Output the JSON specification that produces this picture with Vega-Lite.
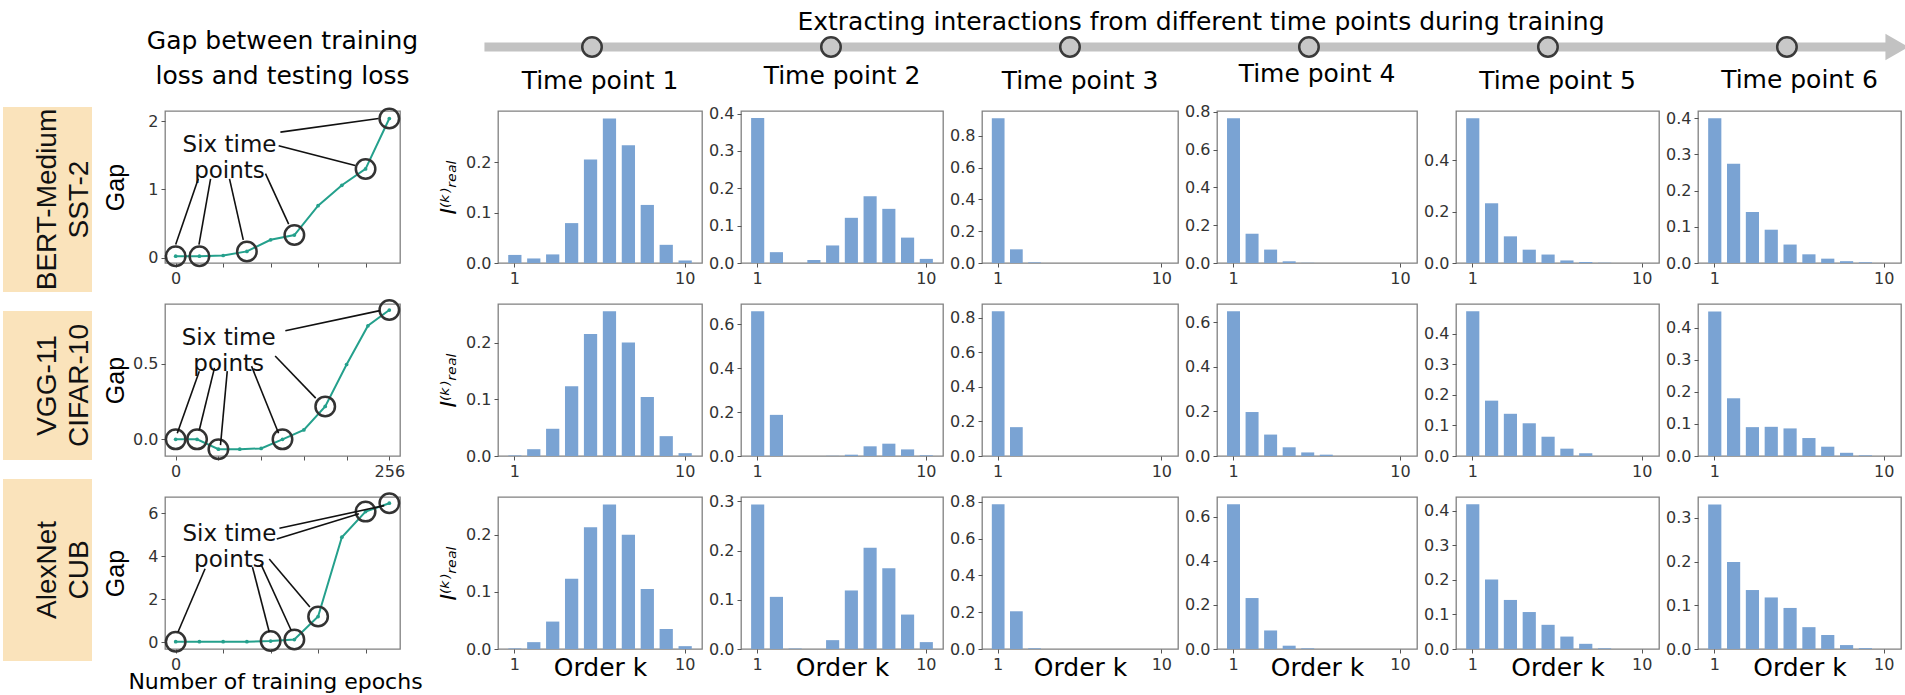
{
  "$schema": "https://vega.github.io/schema/vega-lite/v6.json",
  "background": "white",
  "padding": {"left": 3, "top": 10, "right": 0, "bottom": 0},
  "config": {
    "font": "DejaVu Sans",
    "view": {"stroke": "#808080", "strokeWidth": 1.3},
    "axis": {"domain": false, "grid": false, "ticks": true, "tickColor": "#555", "tickSize": 4, "tickWidth": 1, "labelFont": "DejaVu Sans", "labelFontSize": 16, "labelColor": "#333", "labelPadding": 3, "labelOverlap": false, "labelFlush": false, "titleFont": "DejaVu Sans", "titleFontWeight": "normal", "titleColor": "#000"},
    "title": {"font": "DejaVu Sans", "fontSize": 25, "fontWeight": "normal", "color": "#000", "baseline": "bottom", "offset": 17},
    "bar": {"color": "#7aa3d3"},
    "text": {"font": "DejaVu Sans"}
  },
  "datasets": {
    "models": [
      {"row": 1, "label": "BERT-Medium\nSST-2"},
      {"row": 2, "label": "VGG-11\nCIFAR-10"},
      {"row": 3, "label": "AlexNet\nCUB"}
    ],
    "timeline": [{"start": 0.55, "end": 6.46}],
    "timepoints": [{"tp": 1}, {"tp": 2}, {"tp": 3}, {"tp": 4}, {"tp": 5}, {"tp": 6}],
    "gap": [
      {"row": 1, "epoch": 0, "gap": 0.02, "circled": true},
      {"row": 1, "epoch": 28.44, "gap": 0.02, "circled": true},
      {"row": 1, "epoch": 56.89, "gap": 0.03, "circled": false},
      {"row": 1, "epoch": 85.33, "gap": 0.09, "circled": true},
      {"row": 1, "epoch": 113.78, "gap": 0.26, "circled": false},
      {"row": 1, "epoch": 142.22, "gap": 0.33, "circled": true},
      {"row": 1, "epoch": 170.67, "gap": 0.76, "circled": false},
      {"row": 1, "epoch": 199.11, "gap": 1.06, "circled": false},
      {"row": 1, "epoch": 227.56, "gap": 1.30, "circled": true},
      {"row": 1, "epoch": 256, "gap": 2.04, "circled": true},
      {"row": 2, "epoch": 0, "gap": 0.0, "circled": true},
      {"row": 2, "epoch": 25.6, "gap": 0.0, "circled": true},
      {"row": 2, "epoch": 51.2, "gap": -0.065, "circled": true},
      {"row": 2, "epoch": 76.8, "gap": -0.065, "circled": false},
      {"row": 2, "epoch": 102.4, "gap": -0.06, "circled": false},
      {"row": 2, "epoch": 128, "gap": 0.0, "circled": true},
      {"row": 2, "epoch": 153.6, "gap": 0.062, "circled": false},
      {"row": 2, "epoch": 179.2, "gap": 0.218, "circled": true},
      {"row": 2, "epoch": 204.8, "gap": 0.495, "circled": false},
      {"row": 2, "epoch": 230.4, "gap": 0.751, "circled": false},
      {"row": 2, "epoch": 256, "gap": 0.855, "circled": true},
      {"row": 3, "epoch": 0, "gap": 0.02, "circled": true},
      {"row": 3, "epoch": 28.44, "gap": 0.02, "circled": false},
      {"row": 3, "epoch": 56.89, "gap": 0.02, "circled": false},
      {"row": 3, "epoch": 85.33, "gap": 0.02, "circled": false},
      {"row": 3, "epoch": 113.78, "gap": 0.05, "circled": true},
      {"row": 3, "epoch": 142.22, "gap": 0.12, "circled": true},
      {"row": 3, "epoch": 170.67, "gap": 1.19, "circled": true},
      {"row": 3, "epoch": 199.11, "gap": 4.88, "circled": false},
      {"row": 3, "epoch": 227.56, "gap": 6.07, "circled": true},
      {"row": 3, "epoch": 256, "gap": 6.46, "circled": true}
    ],
    "arrows": [
      {"row": 1, "epoch": 0, "gap": 0.19, "epoch2": 27.1, "gap2": 1.155},
      {"row": 1, "epoch": 27.9, "gap": 0.19, "epoch2": 41.8, "gap2": 1.155},
      {"row": 1, "epoch": 81, "gap": 0.26, "epoch2": 64.5, "gap2": 1.155},
      {"row": 1, "epoch": 135.4, "gap": 0.49, "epoch2": 107.6, "gap2": 1.23},
      {"row": 1, "epoch": 215.1, "gap": 1.35, "epoch2": 123.4, "gap2": 1.64},
      {"row": 1, "epoch": 243.1, "gap": 2.04, "epoch2": 125.5, "gap2": 1.84},
      {"row": 2, "epoch": 1.9, "gap": 0.04, "epoch2": 28.3, "gap2": 0.451},
      {"row": 2, "epoch": 28.3, "gap": 0.062, "epoch2": 46.5, "gap2": 0.473},
      {"row": 2, "epoch": 53.7, "gap": -0.038, "epoch2": 61.8, "gap2": 0.451},
      {"row": 2, "epoch": 123.3, "gap": 0.04, "epoch2": 90.9, "gap2": 0.484},
      {"row": 2, "epoch": 167.8, "gap": 0.273, "epoch2": 119.2, "gap2": 0.551},
      {"row": 2, "epoch": 244.6, "gap": 0.851, "epoch2": 131.4, "gap2": 0.718},
      {"row": 3, "epoch": 2.8, "gap": 0.47, "epoch2": 35.2, "gap2": 3.41},
      {"row": 3, "epoch": 112.1, "gap": 0.47, "epoch2": 92, "gap2": 3.49},
      {"row": 3, "epoch": 138.5, "gap": 0.54, "epoch2": 102, "gap2": 3.64},
      {"row": 3, "epoch": 160.8, "gap": 1.63, "epoch2": 112.1, "gap2": 3.87},
      {"row": 3, "epoch": 249.9, "gap": 6.35, "epoch2": 124.3, "gap2": 5.3},
      {"row": 3, "epoch": 219.6, "gap": 5.97, "epoch2": 121.1, "gap2": 4.8}
    ],
    "notes": [
      {"row": 1, "epoch": 64.5, "gap": 1.65, "label": "Six time\npoints"},
      {"row": 2, "epoch": 63.5, "gap": 0.673, "label": "Six time\npoints"},
      {"row": 3, "epoch": 64.4, "gap": 5.04, "label": "Six time\npoints"}
    ],
    "bars": [
      {"row":1,"tp":1,"k":1,"value":0.016},{"row":1,"tp":1,"k":2,"value":0.009},{"row":1,"tp":1,"k":3,"value":0.017},{"row":1,"tp":1,"k":4,"value":0.079},{"row":1,"tp":1,"k":5,"value":0.205},{"row":1,"tp":1,"k":6,"value":0.286},{"row":1,"tp":1,"k":7,"value":0.233},{"row":1,"tp":1,"k":8,"value":0.115},{"row":1,"tp":1,"k":9,"value":0.036},{"row":1,"tp":1,"k":10,"value":0.005},
      {"row":1,"tp":2,"k":1,"value":0.388},{"row":1,"tp":2,"k":2,"value":0.029},{"row":1,"tp":2,"k":3,"value":0},{"row":1,"tp":2,"k":4,"value":0.008},{"row":1,"tp":2,"k":5,"value":0.047},{"row":1,"tp":2,"k":6,"value":0.121},{"row":1,"tp":2,"k":7,"value":0.179},{"row":1,"tp":2,"k":8,"value":0.145},{"row":1,"tp":2,"k":9,"value":0.068},{"row":1,"tp":2,"k":10,"value":0.011},
      {"row":1,"tp":3,"k":1,"value":0.91},{"row":1,"tp":3,"k":2,"value":0.086},{"row":1,"tp":3,"k":3,"value":0.004},{"row":1,"tp":3,"k":4,"value":0},{"row":1,"tp":3,"k":5,"value":0},{"row":1,"tp":3,"k":6,"value":0},{"row":1,"tp":3,"k":7,"value":0},{"row":1,"tp":3,"k":8,"value":0},{"row":1,"tp":3,"k":9,"value":0},{"row":1,"tp":3,"k":10,"value":0},
      {"row":1,"tp":4,"k":1,"value":0.767},{"row":1,"tp":4,"k":2,"value":0.155},{"row":1,"tp":4,"k":3,"value":0.071},{"row":1,"tp":4,"k":4,"value":0.009},{"row":1,"tp":4,"k":5,"value":0.001},{"row":1,"tp":4,"k":6,"value":0},{"row":1,"tp":4,"k":7,"value":0},{"row":1,"tp":4,"k":8,"value":0},{"row":1,"tp":4,"k":9,"value":0},{"row":1,"tp":4,"k":10,"value":0},
      {"row":1,"tp":5,"k":1,"value":0.565},{"row":1,"tp":5,"k":2,"value":0.233},{"row":1,"tp":5,"k":3,"value":0.104},{"row":1,"tp":5,"k":4,"value":0.052},{"row":1,"tp":5,"k":5,"value":0.033},{"row":1,"tp":5,"k":6,"value":0.01},{"row":1,"tp":5,"k":7,"value":0.004},{"row":1,"tp":5,"k":8,"value":0.001},{"row":1,"tp":5,"k":9,"value":0},{"row":1,"tp":5,"k":10,"value":0},
      {"row":1,"tp":6,"k":1,"value":0.4},{"row":1,"tp":6,"k":2,"value":0.274},{"row":1,"tp":6,"k":3,"value":0.141},{"row":1,"tp":6,"k":4,"value":0.092},{"row":1,"tp":6,"k":5,"value":0.051},{"row":1,"tp":6,"k":6,"value":0.024},{"row":1,"tp":6,"k":7,"value":0.012},{"row":1,"tp":6,"k":8,"value":0.005},{"row":1,"tp":6,"k":9,"value":0.002},{"row":1,"tp":6,"k":10,"value":0},
      {"row":2,"tp":1,"k":1,"value":0.001},{"row":2,"tp":1,"k":2,"value":0.012},{"row":2,"tp":1,"k":3,"value":0.048},{"row":2,"tp":1,"k":4,"value":0.123},{"row":2,"tp":1,"k":5,"value":0.215},{"row":2,"tp":1,"k":6,"value":0.255},{"row":2,"tp":1,"k":7,"value":0.2},{"row":2,"tp":1,"k":8,"value":0.104},{"row":2,"tp":1,"k":9,"value":0.035},{"row":2,"tp":1,"k":10,"value":0.005},
      {"row":2,"tp":2,"k":1,"value":0.658},{"row":2,"tp":2,"k":2,"value":0.187},{"row":2,"tp":2,"k":3,"value":0},{"row":2,"tp":2,"k":4,"value":0},{"row":2,"tp":2,"k":5,"value":0.001},{"row":2,"tp":2,"k":6,"value":0.006},{"row":2,"tp":2,"k":7,"value":0.044},{"row":2,"tp":2,"k":8,"value":0.056},{"row":2,"tp":2,"k":9,"value":0.03},{"row":2,"tp":2,"k":10,"value":0.003},
      {"row":2,"tp":3,"k":1,"value":0.838},{"row":2,"tp":3,"k":2,"value":0.167},{"row":2,"tp":3,"k":3,"value":0},{"row":2,"tp":3,"k":4,"value":0},{"row":2,"tp":3,"k":5,"value":0},{"row":2,"tp":3,"k":6,"value":0},{"row":2,"tp":3,"k":7,"value":0},{"row":2,"tp":3,"k":8,"value":0},{"row":2,"tp":3,"k":9,"value":0},{"row":2,"tp":3,"k":10,"value":0},
      {"row":2,"tp":4,"k":1,"value":0.649},{"row":2,"tp":4,"k":2,"value":0.197},{"row":2,"tp":4,"k":3,"value":0.096},{"row":2,"tp":4,"k":4,"value":0.039},{"row":2,"tp":4,"k":5,"value":0.016},{"row":2,"tp":4,"k":6,"value":0.006},{"row":2,"tp":4,"k":7,"value":0},{"row":2,"tp":4,"k":8,"value":0},{"row":2,"tp":4,"k":9,"value":0},{"row":2,"tp":4,"k":10,"value":0},
      {"row":2,"tp":5,"k":1,"value":0.473},{"row":2,"tp":5,"k":2,"value":0.181},{"row":2,"tp":5,"k":3,"value":0.138},{"row":2,"tp":5,"k":4,"value":0.107},{"row":2,"tp":5,"k":5,"value":0.063},{"row":2,"tp":5,"k":6,"value":0.024},{"row":2,"tp":5,"k":7,"value":0.009},{"row":2,"tp":5,"k":8,"value":0},{"row":2,"tp":5,"k":9,"value":0},{"row":2,"tp":5,"k":10,"value":0},
      {"row":2,"tp":6,"k":1,"value":0.451},{"row":2,"tp":6,"k":2,"value":0.18},{"row":2,"tp":6,"k":3,"value":0.09},{"row":2,"tp":6,"k":4,"value":0.091},{"row":2,"tp":6,"k":5,"value":0.086},{"row":2,"tp":6,"k":6,"value":0.056},{"row":2,"tp":6,"k":7,"value":0.029},{"row":2,"tp":6,"k":8,"value":0.01},{"row":2,"tp":6,"k":9,"value":0.002},{"row":2,"tp":6,"k":10,"value":0},
      {"row":3,"tp":1,"k":1,"value":0.001},{"row":3,"tp":1,"k":2,"value":0.012},{"row":3,"tp":1,"k":3,"value":0.048},{"row":3,"tp":1,"k":4,"value":0.123},{"row":3,"tp":1,"k":5,"value":0.213},{"row":3,"tp":1,"k":6,"value":0.253},{"row":3,"tp":1,"k":7,"value":0.2},{"row":3,"tp":1,"k":8,"value":0.105},{"row":3,"tp":1,"k":9,"value":0.035},{"row":3,"tp":1,"k":10,"value":0.005},
      {"row":3,"tp":2,"k":1,"value":0.294},{"row":3,"tp":2,"k":2,"value":0.106},{"row":3,"tp":2,"k":3,"value":0.001},{"row":3,"tp":2,"k":4,"value":0},{"row":3,"tp":2,"k":5,"value":0.018},{"row":3,"tp":2,"k":6,"value":0.119},{"row":3,"tp":2,"k":7,"value":0.206},{"row":3,"tp":2,"k":8,"value":0.164},{"row":3,"tp":2,"k":9,"value":0.07},{"row":3,"tp":2,"k":10,"value":0.014},
      {"row":3,"tp":3,"k":1,"value":0.787},{"row":3,"tp":3,"k":2,"value":0.205},{"row":3,"tp":3,"k":3,"value":0.004},{"row":3,"tp":3,"k":4,"value":0},{"row":3,"tp":3,"k":5,"value":0},{"row":3,"tp":3,"k":6,"value":0},{"row":3,"tp":3,"k":7,"value":0},{"row":3,"tp":3,"k":8,"value":0},{"row":3,"tp":3,"k":9,"value":0},{"row":3,"tp":3,"k":10,"value":0},
      {"row":3,"tp":4,"k":1,"value":0.656},{"row":3,"tp":4,"k":2,"value":0.231},{"row":3,"tp":4,"k":3,"value":0.084},{"row":3,"tp":4,"k":4,"value":0.015},{"row":3,"tp":4,"k":5,"value":0.003},{"row":3,"tp":4,"k":6,"value":0},{"row":3,"tp":4,"k":7,"value":0},{"row":3,"tp":4,"k":8,"value":0},{"row":3,"tp":4,"k":9,"value":0},{"row":3,"tp":4,"k":10,"value":0},
      {"row":3,"tp":5,"k":1,"value":0.419},{"row":3,"tp":5,"k":2,"value":0.201},{"row":3,"tp":5,"k":3,"value":0.142},{"row":3,"tp":5,"k":4,"value":0.107},{"row":3,"tp":5,"k":5,"value":0.07},{"row":3,"tp":5,"k":6,"value":0.036},{"row":3,"tp":5,"k":7,"value":0.015},{"row":3,"tp":5,"k":8,"value":0.002},{"row":3,"tp":5,"k":9,"value":0},{"row":3,"tp":5,"k":10,"value":0},
      {"row":3,"tp":6,"k":1,"value":0.331},{"row":3,"tp":6,"k":2,"value":0.199},{"row":3,"tp":6,"k":3,"value":0.135},{"row":3,"tp":6,"k":4,"value":0.118},{"row":3,"tp":6,"k":5,"value":0.094},{"row":3,"tp":6,"k":6,"value":0.05},{"row":3,"tp":6,"k":7,"value":0.032},{"row":3,"tp":6,"k":8,"value":0.009},{"row":3,"tp":6,"k":9,"value":0.002},{"row":3,"tp":6,"k":10,"value":0}
    ]
  },
  "spacing": 8,
  "hconcat": [
    {
      "spacing": 19,
      "vconcat": [
        {"width": 89, "height": 64, "data": {"values": [{}]}, "mark": {"type": "text", "text": ""}, "encoding": {}, "view": {"stroke": null}},
        {"width": 89, "height": 185, "data": {"name": "models"}, "transform": [{"filter": "datum.row==1"}], "mark": {"type": "text", "angle": 270, "font": "Liberation Sans", "fontSize": 28, "lineHeight": 32, "lineBreak": "\n", "align": "center", "baseline": "middle", "color": "#111"}, "encoding": {"text": {"field": "label"}}, "view": {"fill": "#fae3bb", "stroke": null}},
        {"width": 89, "height": 149, "data": {"name": "models"}, "transform": [{"filter": "datum.row==2"}], "mark": {"type": "text", "angle": 270, "font": "Liberation Sans", "fontSize": 28, "lineHeight": 32, "lineBreak": "\n", "align": "center", "baseline": "middle", "color": "#111"}, "encoding": {"text": {"field": "label"}}, "view": {"fill": "#fae3bb", "stroke": null}},
        {"width": 89, "height": 182, "data": {"name": "models"}, "transform": [{"filter": "datum.row==3"}], "mark": {"type": "text", "angle": 270, "font": "Liberation Sans", "fontSize": 28, "lineHeight": 32, "lineBreak": "\n", "align": "center", "baseline": "middle", "color": "#111"}, "encoding": {"text": {"field": "label"}}, "view": {"fill": "#fae3bb", "stroke": null}}
      ]
    },
    {
      "columns": 8,
      "bounds": "flush",
      "spacing": {"row": 41, "column": 39},
      "concat": [
        {"width": 235, "height": 46, "data": {"values": [{}]}, "mark": {"type": "text", "text": ""}, "encoding": {}, "view": {"stroke": null}},
        {"width": 20, "height": 46, "data": {"values": [{}]}, "mark": {"type": "text", "text": ""}, "encoding": {}, "view": {"stroke": null}},
        {
          "width": 204, "height": 46, "view": {"stroke": null},
          "title": {"text": "Extracting interactions from different time points during training", "fontSize": 25, "offset": -11, "dx": 601},
          "layer": [
            {"data": {"name": "timeline"}, "mark": {"type": "rule", "color": "#c2c2c2", "strokeWidth": 9}, "encoding": {"x": {"field": "start", "type": "quantitative", "scale": {"domain": [0.6067, 1.4603], "nice": false, "zero": false}, "axis": null}, "x2": {"field": "end"}}},
            {"data": {"name": "timeline"}, "mark": {"type": "point", "shape": "triangle-right", "filled": true, "color": "#c2c2c2", "size": 700, "opacity": 1}, "encoding": {"x": {"field": "end", "type": "quantitative"}}},
            {"data": {"name": "timepoints"}, "mark": {"type": "point", "filled": true, "fill": "#c8c8c8", "stroke": "#3a3a3a", "strokeWidth": 2.5, "size": 380, "opacity": 1}, "encoding": {"x": {"field": "tp", "type": "quantitative"}}}
          ]
        },
        {"width": 202, "height": 46, "data": {"values": [{}]}, "mark": {"type": "text", "text": ""}, "encoding": {}, "view": {"stroke": null}},
        {"width": 196, "height": 46, "data": {"values": [{}]}, "mark": {"type": "text", "text": ""}, "encoding": {}, "view": {"stroke": null}},
        {"width": 200, "height": 46, "data": {"values": [{}]}, "mark": {"type": "text", "text": ""}, "encoding": {}, "view": {"stroke": null}},
        {"width": 203, "height": 46, "data": {"values": [{}]}, "mark": {"type": "text", "text": ""}, "encoding": {}, "view": {"stroke": null}},
        {"width": 203, "height": 46, "data": {"values": [{}]}, "mark": {"type": "text", "text": ""}, "encoding": {}, "view": {"stroke": null}},

        {
          "width": 235, "height": 152,
          "title": {"text": ["Gap between training", "loss and testing loss"], "fontSize": 25, "lineHeight": 35, "offset": 15},
          "layer": [
            {"data": {"name": "gap"}, "transform": [{"filter": "datum.row==1"}], "mark": {"type": "line", "color": "#24a08c", "strokeWidth": 2},
             "encoding": {
               "x": {"field": "epoch", "type": "quantitative", "scale": {"domain": [-12.8, 268.8], "nice": false, "zero": false}, "axis": {"values": [0, 28.44, 56.89, 85.33, 113.78, 142.22, 170.67, 199.11, 227.56, 256], "labelExpr": "datum.value==0 ? '0' : datum.value==256 ? '256' : ''", "title": null}},
               "y": {"field": "gap", "type": "quantitative", "scale": {"domain": [-0.08, 2.15], "nice": false, "zero": false}, "axis": {"values": [0, 1, 2], "format": "d", "title": "Gap", "titleX": -37, "titleFont": "Liberation Sans", "titleFontSize": 25}}}},
            {"data": {"name": "gap"}, "transform": [{"filter": "datum.row==1"}], "mark": {"type": "point", "filled": true, "color": "#24a08c", "size": 14, "opacity": 1}, "encoding": {"x": {"field": "epoch", "type": "quantitative"}, "y": {"field": "gap", "type": "quantitative"}}},
            {"data": {"name": "gap"}, "transform": [{"filter": "datum.row==1 && datum.circled"}], "mark": {"type": "point", "filled": false, "stroke": "#333", "strokeWidth": 2.5, "size": 380, "opacity": 1}, "encoding": {"x": {"field": "epoch", "type": "quantitative"}, "y": {"field": "gap", "type": "quantitative"}}},
            {"data": {"name": "arrows"}, "transform": [{"filter": "datum.row==1"}], "mark": {"type": "rule", "color": "#111", "strokeWidth": 1.6}, "encoding": {"x": {"field": "epoch", "type": "quantitative"}, "y": {"field": "gap", "type": "quantitative"}, "x2": {"field": "epoch2"}, "y2": {"field": "gap2"}}},
            {"data": {"name": "notes"}, "transform": [{"filter": "datum.row==1"}], "mark": {"type": "text", "fontSize": 23, "lineHeight": 26, "lineBreak": "\n", "color": "#111"}, "encoding": {"x": {"field": "epoch", "type": "quantitative"}, "y": {"field": "gap", "type": "quantitative"}, "text": {"field": "label"}}}
          ]
        },
        {"width": 20, "height": 10, "data": {"values": [{}]}, "mark": {"type": "text", "text": ""}, "encoding": {}, "view": {"stroke": null}},
        {"width": 204, "height": 152, "title": "Time point 1", "data": {"name": "bars"}, "transform": [{"filter": "datum.row==1 && datum.tp==1"}], "mark": "bar", "encoding": {"x": {"field": "k", "type": "ordinal", "scale": {"domain": [1,2,3,4,5,6,7,8,9,10], "paddingInner": 0.3, "paddingOuter": 0.54}, "axis": {"values": [1, 10], "labelAngle": 0, "title": null}}, "y": {"field": "value", "type": "quantitative", "scale": {"domain": [0, 0.301], "nice": false}, "axis": {"values": [0, 0.1, 0.2], "format": ".1f", "title": "I⁽ᵏ⁾ᵣₑₐₗ", "titleFontStyle": "italic", "titleFontSize": 22, "titlePadding": 5}}}},
        {"width": 202, "height": 152, "title": "Time point 2", "data": {"name": "bars"}, "transform": [{"filter": "datum.row==1 && datum.tp==2"}], "mark": "bar", "encoding": {"x": {"field": "k", "type": "ordinal", "scale": {"domain": [1,2,3,4,5,6,7,8,9,10], "paddingInner": 0.3, "paddingOuter": 0.54}, "axis": {"values": [1, 10], "labelAngle": 0, "title": null}}, "y": {"field": "value", "type": "quantitative", "scale": {"domain": [0, 0.407], "nice": false}, "axis": {"values": [0, 0.1, 0.2, 0.3, 0.4], "format": ".1f", "title": null}}}},
        {"width": 196, "height": 152, "title": "Time point 3", "data": {"name": "bars"}, "transform": [{"filter": "datum.row==1 && datum.tp==3"}], "mark": "bar", "encoding": {"x": {"field": "k", "type": "ordinal", "scale": {"domain": [1,2,3,4,5,6,7,8,9,10], "paddingInner": 0.3, "paddingOuter": 0.54}, "axis": {"values": [1, 10], "labelAngle": 0, "title": null}}, "y": {"field": "value", "type": "quantitative", "scale": {"domain": [0, 0.956], "nice": false}, "axis": {"values": [0, 0.2, 0.4, 0.6, 0.8], "format": ".1f", "title": null}}}},
        {"width": 200, "height": 152, "title": "Time point 4", "data": {"name": "bars"}, "transform": [{"filter": "datum.row==1 && datum.tp==4"}], "mark": "bar", "encoding": {"x": {"field": "k", "type": "ordinal", "scale": {"domain": [1,2,3,4,5,6,7,8,9,10], "paddingInner": 0.3, "paddingOuter": 0.54}, "axis": {"values": [1, 10], "labelAngle": 0, "title": null}}, "y": {"field": "value", "type": "quantitative", "scale": {"domain": [0, 0.805], "nice": false}, "axis": {"values": [0, 0.2, 0.4, 0.6, 0.8], "format": ".1f", "title": null}}}},
        {"width": 203, "height": 152, "title": "Time point 5", "data": {"name": "bars"}, "transform": [{"filter": "datum.row==1 && datum.tp==5"}], "mark": "bar", "encoding": {"x": {"field": "k", "type": "ordinal", "scale": {"domain": [1,2,3,4,5,6,7,8,9,10], "paddingInner": 0.3, "paddingOuter": 0.54}, "axis": {"values": [1, 10], "labelAngle": 0, "title": null}}, "y": {"field": "value", "type": "quantitative", "scale": {"domain": [0, 0.593], "nice": false}, "axis": {"values": [0, 0.2, 0.4], "format": ".1f", "title": null}}}},
        {"width": 203, "height": 152, "title": "Time point 6", "data": {"name": "bars"}, "transform": [{"filter": "datum.row==1 && datum.tp==6"}], "mark": "bar", "encoding": {"x": {"field": "k", "type": "ordinal", "scale": {"domain": [1,2,3,4,5,6,7,8,9,10], "paddingInner": 0.3, "paddingOuter": 0.54}, "axis": {"values": [1, 10], "labelAngle": 0, "title": null}}, "y": {"field": "value", "type": "quantitative", "scale": {"domain": [0, 0.42], "nice": false}, "axis": {"values": [0, 0.1, 0.2, 0.3, 0.4], "format": ".1f", "title": null}}}},

        {
          "width": 235, "height": 152,
          "layer": [
            {"data": {"name": "gap"}, "transform": [{"filter": "datum.row==2"}], "mark": {"type": "line", "color": "#24a08c", "strokeWidth": 2},
             "encoding": {
               "x": {"field": "epoch", "type": "quantitative", "scale": {"domain": [-12.8, 268.8], "nice": false, "zero": false}, "axis": {"values": [0, 25.6, 51.2, 76.8, 102.4, 128, 153.6, 179.2, 204.8, 230.4, 256], "labelExpr": "datum.value==0 ? '0' : datum.value==256 ? '256' : ''", "title": null}},
               "y": {"field": "gap", "type": "quantitative", "scale": {"domain": [-0.11, 0.895], "nice": false, "zero": false}, "axis": {"values": [0, 0.5], "format": ".1f", "title": "Gap", "titleX": -37, "titleFont": "Liberation Sans", "titleFontSize": 25}}}},
            {"data": {"name": "gap"}, "transform": [{"filter": "datum.row==2"}], "mark": {"type": "point", "filled": true, "color": "#24a08c", "size": 14, "opacity": 1}, "encoding": {"x": {"field": "epoch", "type": "quantitative"}, "y": {"field": "gap", "type": "quantitative"}}},
            {"data": {"name": "gap"}, "transform": [{"filter": "datum.row==2 && datum.circled"}], "mark": {"type": "point", "filled": false, "stroke": "#333", "strokeWidth": 2.5, "size": 380, "opacity": 1}, "encoding": {"x": {"field": "epoch", "type": "quantitative"}, "y": {"field": "gap", "type": "quantitative"}}},
            {"data": {"name": "arrows"}, "transform": [{"filter": "datum.row==2"}], "mark": {"type": "rule", "color": "#111", "strokeWidth": 1.6}, "encoding": {"x": {"field": "epoch", "type": "quantitative"}, "y": {"field": "gap", "type": "quantitative"}, "x2": {"field": "epoch2"}, "y2": {"field": "gap2"}}},
            {"data": {"name": "notes"}, "transform": [{"filter": "datum.row==2"}], "mark": {"type": "text", "fontSize": 23, "lineHeight": 26, "lineBreak": "\n", "color": "#111"}, "encoding": {"x": {"field": "epoch", "type": "quantitative"}, "y": {"field": "gap", "type": "quantitative"}, "text": {"field": "label"}}}
          ]
        },
        {"width": 20, "height": 10, "data": {"values": [{}]}, "mark": {"type": "text", "text": ""}, "encoding": {}, "view": {"stroke": null}},
        {"width": 204, "height": 152, "data": {"name": "bars"}, "transform": [{"filter": "datum.row==2 && datum.tp==1"}], "mark": "bar", "encoding": {"x": {"field": "k", "type": "ordinal", "scale": {"domain": [1,2,3,4,5,6,7,8,9,10], "paddingInner": 0.3, "paddingOuter": 0.54}, "axis": {"values": [1, 10], "labelAngle": 0, "title": null}}, "y": {"field": "value", "type": "quantitative", "scale": {"domain": [0, 0.268], "nice": false}, "axis": {"values": [0, 0.1, 0.2], "format": ".1f", "title": "I⁽ᵏ⁾ᵣₑₐₗ", "titleFontStyle": "italic", "titleFontSize": 22, "titlePadding": 5}}}},
        {"width": 202, "height": 152, "data": {"name": "bars"}, "transform": [{"filter": "datum.row==2 && datum.tp==2"}], "mark": "bar", "encoding": {"x": {"field": "k", "type": "ordinal", "scale": {"domain": [1,2,3,4,5,6,7,8,9,10], "paddingInner": 0.3, "paddingOuter": 0.54}, "axis": {"values": [1, 10], "labelAngle": 0, "title": null}}, "y": {"field": "value", "type": "quantitative", "scale": {"domain": [0, 0.691], "nice": false}, "axis": {"values": [0, 0.2, 0.4, 0.6], "format": ".1f", "title": null}}}},
        {"width": 196, "height": 152, "data": {"name": "bars"}, "transform": [{"filter": "datum.row==2 && datum.tp==3"}], "mark": "bar", "encoding": {"x": {"field": "k", "type": "ordinal", "scale": {"domain": [1,2,3,4,5,6,7,8,9,10], "paddingInner": 0.3, "paddingOuter": 0.54}, "axis": {"values": [1, 10], "labelAngle": 0, "title": null}}, "y": {"field": "value", "type": "quantitative", "scale": {"domain": [0, 0.88], "nice": false}, "axis": {"values": [0, 0.2, 0.4, 0.6, 0.8], "format": ".1f", "title": null}}}},
        {"width": 200, "height": 152, "data": {"name": "bars"}, "transform": [{"filter": "datum.row==2 && datum.tp==4"}], "mark": "bar", "encoding": {"x": {"field": "k", "type": "ordinal", "scale": {"domain": [1,2,3,4,5,6,7,8,9,10], "paddingInner": 0.3, "paddingOuter": 0.54}, "axis": {"values": [1, 10], "labelAngle": 0, "title": null}}, "y": {"field": "value", "type": "quantitative", "scale": {"domain": [0, 0.681], "nice": false}, "axis": {"values": [0, 0.2, 0.4, 0.6], "format": ".1f", "title": null}}}},
        {"width": 203, "height": 152, "data": {"name": "bars"}, "transform": [{"filter": "datum.row==2 && datum.tp==5"}], "mark": "bar", "encoding": {"x": {"field": "k", "type": "ordinal", "scale": {"domain": [1,2,3,4,5,6,7,8,9,10], "paddingInner": 0.3, "paddingOuter": 0.54}, "axis": {"values": [1, 10], "labelAngle": 0, "title": null}}, "y": {"field": "value", "type": "quantitative", "scale": {"domain": [0, 0.497], "nice": false}, "axis": {"values": [0, 0.1, 0.2, 0.3, 0.4], "format": ".1f", "title": null}}}},
        {"width": 203, "height": 152, "data": {"name": "bars"}, "transform": [{"filter": "datum.row==2 && datum.tp==6"}], "mark": "bar", "encoding": {"x": {"field": "k", "type": "ordinal", "scale": {"domain": [1,2,3,4,5,6,7,8,9,10], "paddingInner": 0.3, "paddingOuter": 0.54}, "axis": {"values": [1, 10], "labelAngle": 0, "title": null}}, "y": {"field": "value", "type": "quantitative", "scale": {"domain": [0, 0.474], "nice": false}, "axis": {"values": [0, 0.1, 0.2, 0.3, 0.4], "format": ".1f", "title": null}}}},

        {
          "width": 235, "height": 152,
          "layer": [
            {"data": {"name": "gap"}, "transform": [{"filter": "datum.row==3"}], "mark": {"type": "line", "color": "#24a08c", "strokeWidth": 2},
             "encoding": {
               "x": {"field": "epoch", "type": "quantitative", "scale": {"domain": [-12.8, 268.8], "nice": false, "zero": false}, "axis": {"values": [0, 28.44, 56.89, 85.33, 113.78, 142.22, 170.67, 199.11, 227.56, 256], "labelExpr": "datum.value==0 ? '0' : datum.value==256 ? '256' : ''", "title": "Number of training epochs", "titleFontSize": 22, "titleBaseline": "top", "titleY": 22, "titleX": 110}},
               "y": {"field": "gap", "type": "quantitative", "scale": {"domain": [-0.32, 6.75], "nice": false, "zero": false}, "axis": {"values": [0, 2, 4, 6], "format": "d", "title": "Gap", "titleX": -37, "titleFont": "Liberation Sans", "titleFontSize": 25}}}},
            {"data": {"name": "gap"}, "transform": [{"filter": "datum.row==3"}], "mark": {"type": "point", "filled": true, "color": "#24a08c", "size": 14, "opacity": 1}, "encoding": {"x": {"field": "epoch", "type": "quantitative"}, "y": {"field": "gap", "type": "quantitative"}}},
            {"data": {"name": "gap"}, "transform": [{"filter": "datum.row==3 && datum.circled"}], "mark": {"type": "point", "filled": false, "stroke": "#333", "strokeWidth": 2.5, "size": 380, "opacity": 1}, "encoding": {"x": {"field": "epoch", "type": "quantitative"}, "y": {"field": "gap", "type": "quantitative"}}},
            {"data": {"name": "arrows"}, "transform": [{"filter": "datum.row==3"}], "mark": {"type": "rule", "color": "#111", "strokeWidth": 1.6}, "encoding": {"x": {"field": "epoch", "type": "quantitative"}, "y": {"field": "gap", "type": "quantitative"}, "x2": {"field": "epoch2"}, "y2": {"field": "gap2"}}},
            {"data": {"name": "notes"}, "transform": [{"filter": "datum.row==3"}], "mark": {"type": "text", "fontSize": 23, "lineHeight": 26, "lineBreak": "\n", "color": "#111"}, "encoding": {"x": {"field": "epoch", "type": "quantitative"}, "y": {"field": "gap", "type": "quantitative"}, "text": {"field": "label"}}}
          ]
        },
        {"width": 20, "height": 10, "data": {"values": [{}]}, "mark": {"type": "text", "text": ""}, "encoding": {}, "view": {"stroke": null}},
        {"width": 204, "height": 152, "data": {"name": "bars"}, "transform": [{"filter": "datum.row==3 && datum.tp==1"}], "mark": "bar", "encoding": {"x": {"field": "k", "type": "ordinal", "scale": {"domain": [1,2,3,4,5,6,7,8,9,10], "paddingInner": 0.3, "paddingOuter": 0.54}, "axis": {"values": [1, 10], "labelAngle": 0, "title": "Order k", "titleFontSize": 25, "titleBaseline": "top", "titleY": 6}}, "y": {"field": "value", "type": "quantitative", "scale": {"domain": [0, 0.266], "nice": false}, "axis": {"values": [0, 0.1, 0.2], "format": ".1f", "title": "I⁽ᵏ⁾ᵣₑₐₗ", "titleFontStyle": "italic", "titleFontSize": 22, "titlePadding": 5}}}},
        {"width": 202, "height": 152, "data": {"name": "bars"}, "transform": [{"filter": "datum.row==3 && datum.tp==2"}], "mark": "bar", "encoding": {"x": {"field": "k", "type": "ordinal", "scale": {"domain": [1,2,3,4,5,6,7,8,9,10], "paddingInner": 0.3, "paddingOuter": 0.54}, "axis": {"values": [1, 10], "labelAngle": 0, "title": "Order k", "titleFontSize": 25, "titleBaseline": "top", "titleY": 6}}, "y": {"field": "value", "type": "quantitative", "scale": {"domain": [0, 0.309], "nice": false}, "axis": {"values": [0, 0.1, 0.2, 0.3], "format": ".1f", "title": null}}}},
        {"width": 196, "height": 152, "data": {"name": "bars"}, "transform": [{"filter": "datum.row==3 && datum.tp==3"}], "mark": "bar", "encoding": {"x": {"field": "k", "type": "ordinal", "scale": {"domain": [1,2,3,4,5,6,7,8,9,10], "paddingInner": 0.3, "paddingOuter": 0.54}, "axis": {"values": [1, 10], "labelAngle": 0, "title": "Order k", "titleFontSize": 25, "titleBaseline": "top", "titleY": 6}}, "y": {"field": "value", "type": "quantitative", "scale": {"domain": [0, 0.826], "nice": false}, "axis": {"values": [0, 0.2, 0.4, 0.6, 0.8], "format": ".1f", "title": null}}}},
        {"width": 200, "height": 152, "data": {"name": "bars"}, "transform": [{"filter": "datum.row==3 && datum.tp==4"}], "mark": "bar", "encoding": {"x": {"field": "k", "type": "ordinal", "scale": {"domain": [1,2,3,4,5,6,7,8,9,10], "paddingInner": 0.3, "paddingOuter": 0.54}, "axis": {"values": [1, 10], "labelAngle": 0, "title": "Order k", "titleFontSize": 25, "titleBaseline": "top", "titleY": 6}}, "y": {"field": "value", "type": "quantitative", "scale": {"domain": [0, 0.689], "nice": false}, "axis": {"values": [0, 0.2, 0.4, 0.6], "format": ".1f", "title": null}}}},
        {"width": 203, "height": 152, "data": {"name": "bars"}, "transform": [{"filter": "datum.row==3 && datum.tp==5"}], "mark": "bar", "encoding": {"x": {"field": "k", "type": "ordinal", "scale": {"domain": [1,2,3,4,5,6,7,8,9,10], "paddingInner": 0.3, "paddingOuter": 0.54}, "axis": {"values": [1, 10], "labelAngle": 0, "title": "Order k", "titleFontSize": 25, "titleBaseline": "top", "titleY": 6}}, "y": {"field": "value", "type": "quantitative", "scale": {"domain": [0, 0.44], "nice": false}, "axis": {"values": [0, 0.1, 0.2, 0.3, 0.4], "format": ".1f", "title": null}}}},
        {"width": 203, "height": 152, "data": {"name": "bars"}, "transform": [{"filter": "datum.row==3 && datum.tp==6"}], "mark": "bar", "encoding": {"x": {"field": "k", "type": "ordinal", "scale": {"domain": [1,2,3,4,5,6,7,8,9,10], "paddingInner": 0.3, "paddingOuter": 0.54}, "axis": {"values": [1, 10], "labelAngle": 0, "title": "Order k", "titleFontSize": 25, "titleBaseline": "top", "titleY": 6}}, "y": {"field": "value", "type": "quantitative", "scale": {"domain": [0, 0.348], "nice": false}, "axis": {"values": [0, 0.1, 0.2, 0.3], "format": ".1f", "title": null}}}}
      ]
    }
  ]
}
